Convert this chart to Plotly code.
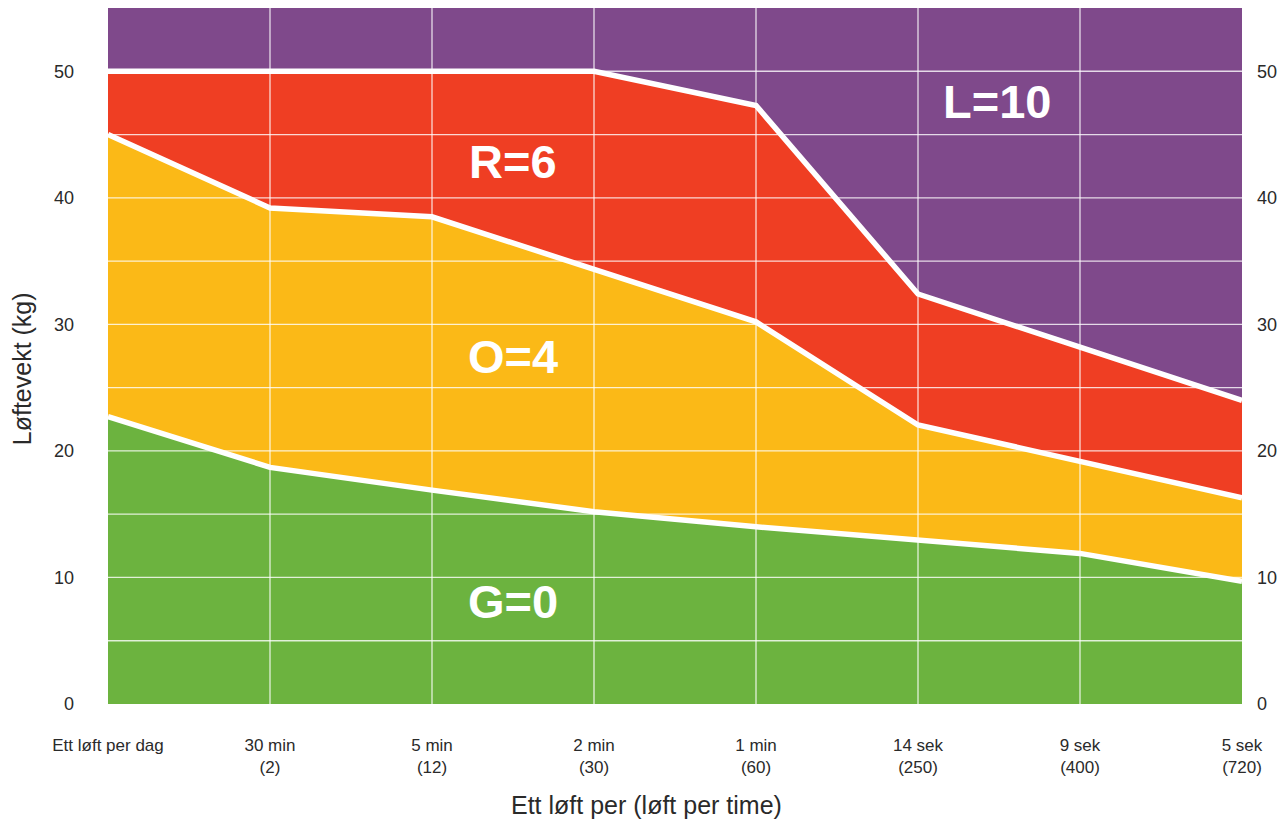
import plotly.graph_objects as go

# ---- data ----
categories = ["Ett løft per dag", "30 min<br>(2)", "5 min<br>(12)", "2 min<br>(30)",
              "1 min<br>(60)", "14 sek<br>(250)", "9 sek<br>(400)", "5 sek<br>(720)"]
x_pos = list(range(len(categories)))
green_top = [22.7, 18.7, 16.9, 15.2, 14.0, 13.0, 11.9, 9.7]
yellow_top = [45.0, 39.2, 38.5, 34.4, 30.2, 22.05, 19.2, 16.3]
red_top = [50, 50, 50, 50, 47.3, 32.4, 28.2, 24.0]
ceiling = [55] * len(categories)
floor = [0] * len(categories)
y_ticks = [0, 10, 20, 30, 40, 50]
grid_y = [5, 10, 15, 20, 25, 30, 35, 40, 45, 50]
zone_labels = ["G=0", "O=4", "R=6", "L=10"]
zone_label_x = [2.5, 2.5, 2.5, 5.49]
zone_label_y = [8.1, 27.5, 42.9, 47.6]

GREEN = "#6CB33F"
YELLOW = "#FBB917"
RED = "#EF3E23"
PURPLE = "#7F498B"
TEXT = "#2a2a2a"
FONT = "Liberation Sans"

fig = go.Figure()
fig.add_trace(go.Scatter(x=x_pos, y=floor, mode="lines", line=dict(width=0), showlegend=False, hoverinfo="skip"))
for top, col in [(green_top, GREEN), (yellow_top, YELLOW), (red_top, RED), (ceiling, PURPLE)]:
    fig.add_trace(go.Scatter(x=x_pos, y=top, mode="lines", line=dict(width=0), fill="tonexty",
                             fillcolor=col, showlegend=False, hoverinfo="skip"))
for top in [green_top, yellow_top, red_top]:
    fig.add_trace(go.Scatter(x=x_pos, y=top, mode="lines", line=dict(color="white", width=5.5),
                             showlegend=False, hoverinfo="skip"))
# invisible trace for right axis
fig.add_trace(go.Scatter(x=x_pos, y=floor, yaxis="y2", mode="lines", line=dict(width=0),
                         showlegend=False, hoverinfo="skip"))

# gridlines drawn above the filled areas
for gy in grid_y:
    fig.add_hline(y=gy, line=dict(color="rgba(255,255,255,0.8)", width=1.3), layer="above")
for gx in x_pos[1:-1]:
    fig.add_vline(x=gx, line=dict(color="rgba(255,255,255,0.8)", width=1.3), layer="above")

for t, xx, yy in zip(zone_labels, zone_label_x, zone_label_y):
    fig.add_annotation(x=xx, y=yy, text="<b>" + t + "</b>", showarrow=False,
                       font=dict(family=FONT, size=47, color="white"))

fig.add_annotation(xref="paper", yref="paper", x=0, y=0.481, xshift=-86, textangle=-90,
                   text="Løftevekt (kg)", showarrow=False, xanchor="center", yanchor="middle",
                   font=dict(family=FONT, size=25, color=TEXT))
fig.add_annotation(xref="paper", yref="paper", x=0.475, y=0, yshift=-101,
                   text="Ett løft per (løft per time)", showarrow=False, xanchor="center",
                   yanchor="middle", font=dict(family=FONT, size=25, color=TEXT))

fig.update_layout(
    width=1286, height=821,
    margin=dict(l=108, r=44, t=8, b=117),
    paper_bgcolor="white", plot_bgcolor="white",
    xaxis=dict(range=[0, 7], tickvals=x_pos, ticktext=categories, showgrid=False, zeroline=False,
               showline=False, ticks="", ticklabelstandoff=29,
               tickfont=dict(family=FONT, size=17, color=TEXT)),
    yaxis=dict(range=[0, 55], tickvals=y_ticks, showgrid=False, zeroline=False, showline=False,
               ticks="", ticklabelstandoff=33, tickfont=dict(family=FONT, size=18, color=TEXT)),
    yaxis2=dict(range=[0, 55], tickvals=y_ticks, overlaying="y", side="right", showgrid=False,
                zeroline=False, showline=False, ticks="", ticklabelstandoff=14,
                tickfont=dict(family=FONT, size=18, color=TEXT)),
)

fig.write_html("out.html", config={"displayModeBar": False},
               post_script="document.body.style.margin='0';document.body.style.overflow='hidden';")
